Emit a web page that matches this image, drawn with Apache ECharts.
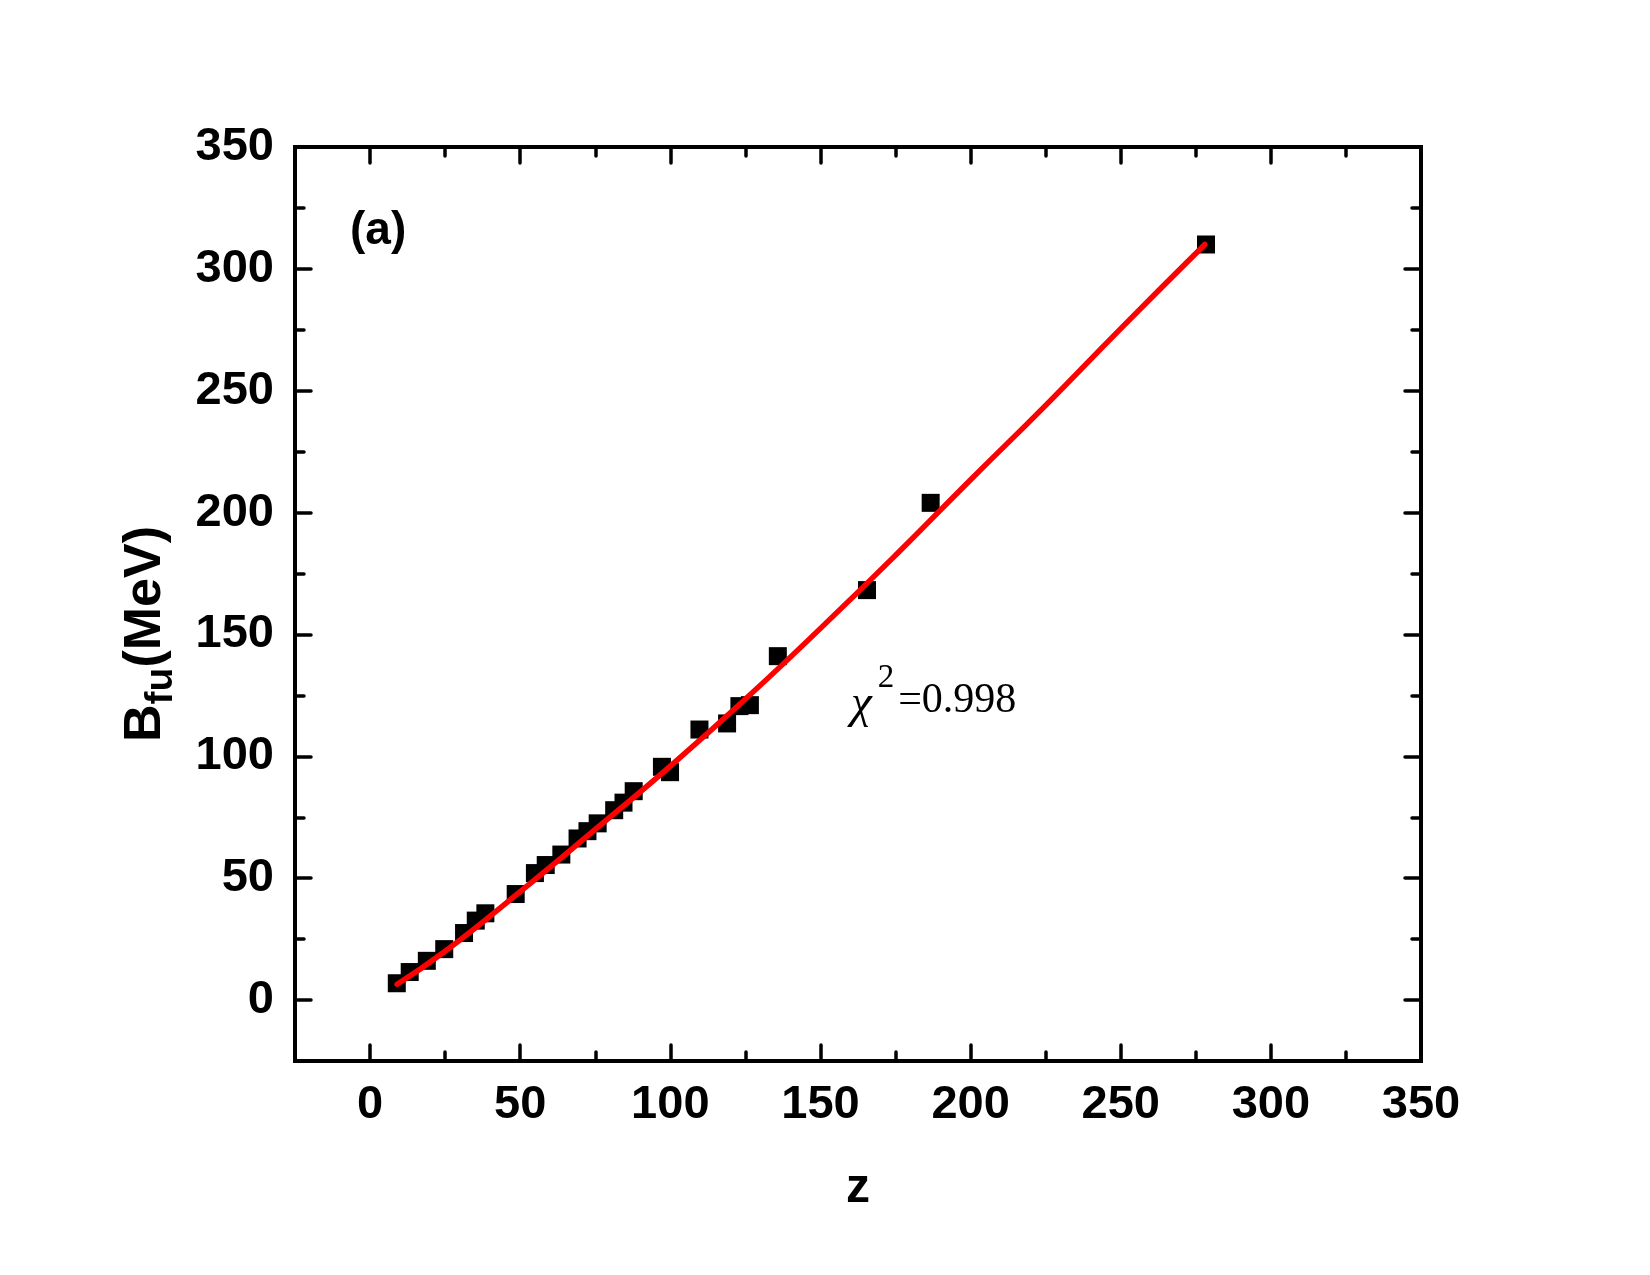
<!DOCTYPE html>
<html>
<head>
<meta charset="utf-8">
<script src="https://cdn.jsdelivr.net/npm/echarts@6/dist/echarts.min.js"></script>
<style>
html,body{margin:0;padding:0;background:#fff;}
#chart{width:1650px;height:1275px;}
</style>
</head>
<body>
<div id="chart"></div>
<script>
// ---- data ----
var zValues = [8.9, 13.2, 18.9, 24.7, 31.3, 35.2, 38.4, 48.5, 54.9, 58.5, 63.7, 69.1, 72.4, 75.8, 81.3, 84.4, 87.8, 97.2, 99.9, 109.7, 118.9, 123.0, 126.5, 135.8, 165.5, 186.7, 278.4];
var bValues = [6.9, 11.5, 16.1, 20.9, 27.5, 32.6, 35.6, 43.5, 52.1, 55.4, 59.7, 66.3, 69.3, 72.5, 77.9, 81.0, 85.7, 95.7, 93.5, 111.0, 113.5, 120.6, 121.0, 141.1, 168.2, 204.0, 310.0];
var fitZ = [9, 25, 50, 75, 100, 125, 150, 175, 200, 225, 250, 278];
var fitB = [6.5, 20, 44.5, 70, 96, 123.5, 152.5, 182.5, 213.5, 244, 275.5, 310];
var xMajorTicks = [0, 50, 100, 150, 200, 250, 300, 350];
var xMinorTicks = [-25, 25, 75, 125, 175, 225, 275, 325];
var yMajorTicks = [0, 50, 100, 150, 200, 250, 300, 350];
var yMinorTicks = [-25, 25, 75, 125, 175, 225, 275, 325];
var axisMin = -25, axisMax = 350;

var scatterData = zValues.map(function (z, i) { return [z, bValues[i]]; });
var fitData = fitZ.map(function (z, i) { return [z, fitB[i]]; });

var FONT = 'Liberation Sans, Arial, Helvetica, sans-serif';
var SERIF = 'Liberation Serif, Times New Roman, serif';

var mctx = document.createElement('canvas').getContext('2d');
function textW(txt, font) { mctx.font = font; return mctx.measureText(txt).width; }

var chart = echarts.init(document.getElementById('chart'), null, {renderer: 'canvas'});

function mkAxis(pos, values, len, withLabel, extra) {
  var a = {
    type: 'value',
    gridIndex: 0,
    position: pos,
    min: axisMin,
    max: axisMax,
    interval: 25,
    axisLine: {show: false, onZero: false},
    splitLine: {show: false},
    axisTick: {
      show: true, inside: true, length: len, customValues: values,
      lineStyle: {color: '#000', width: 3.5, cap: 'round'}
    },
    axisLabel: withLabel ? {
      show: true, customValues: values, color: '#000', fontSize: 47,
      fontWeight: 'bold', fontFamily: FONT, margin: 21
    } : {show: false}
  };
  if (extra) { for (var k in extra) a[k] = extra[k]; }
  return a;
}

// y-axis title pieces: B, subscript fu, (MeV)
var tB = 'B', tSub = 'fu', tRest = '(MeV)';
var fB = 'bold 52px ' + FONT, fS = 'bold 39px ' + FONT;
var wB = textW(tB, fB), wS = textW(tSub, fS), wR = textW(tRest, fB);
var wTot = wB + wS + wR;
var x0 = -wTot / 2;

// chi^2 pieces
var fChi = 'italic 47px ' + SERIF, fSup = '33px ' + SERIF, fEq = '42px ' + SERIF;
var chiX = 851;
var supX = chiX + textW('χ', fChi) + 6;
var eqX = supX + textW('2', fSup) + 4;

var option = {
  backgroundColor: '#fff',
  animation: false,
  grid: {
    left: 295, right: 229, top: 147, bottom: 214,
    show: true, borderColor: '#000', borderWidth: 4, backgroundColor: 'transparent'
  },
  xAxis: [
    mkAxis('bottom', xMajorTicks, 16, true, {
      name: 'z', nameLocation: 'middle', nameGap: 104,
      nameTextStyle: {fontSize: 48, fontWeight: 'bold', fontFamily: FONT, color: '#000'}
    }),
    mkAxis('bottom', xMinorTicks, 9, false),
    mkAxis('top', xMajorTicks, 16, false),
    mkAxis('top', xMinorTicks, 9, false)
  ],
  yAxis: [
    mkAxis('left', yMajorTicks, 16, true),
    mkAxis('left', yMinorTicks, 9, false),
    mkAxis('right', yMajorTicks, 16, false),
    mkAxis('right', yMinorTicks, 9, false)
  ],
  graphic: [
    {
      type: 'text', left: 350, top: 208, z: 100,
      style: {text: '(a)', fontSize: 46, fontWeight: 'bold', fontFamily: FONT, fill: '#000'}
    },
    {
      type: 'text', x: chiX, y: 705, z: 100,
      style: {text: 'χ', font: fChi, fill: '#000', align: 'left', verticalAlign: 'middle'}
    },
    {
      type: 'text', x: supX, y: 678, z: 100,
      style: {text: '2', font: fSup, fill: '#000', align: 'left', verticalAlign: 'middle'}
    },
    {
      type: 'text', x: eqX, y: 701, z: 100,
      style: {text: '=0.998', font: fEq, fill: '#000', align: 'left', verticalAlign: 'middle'}
    },
    {
      type: 'group', x: 146, y: 634, rotation: Math.PI / 2, z: 100,
      children: [
        {type: 'text', x: x0, y: 0, style: {text: tB, font: fB, fill: '#000', align: 'left', verticalAlign: 'middle'}},
        {type: 'text', x: x0 + wB, y: 15, style: {text: tSub, font: fS, fill: '#000', align: 'left', verticalAlign: 'middle'}},
        {type: 'text', x: x0 + wB + wS, y: 0, style: {text: tRest, font: fB, fill: '#000', align: 'left', verticalAlign: 'middle'}}
      ]
    }
  ],
  series: [
    {
      type: 'scatter', xAxisIndex: 0, yAxisIndex: 0,
      data: scatterData, symbol: 'rect', symbolSize: 18,
      itemStyle: {color: '#000', opacity: 1}, z: 2
    },
    {
      type: 'line', xAxisIndex: 0, yAxisIndex: 0,
      data: fitData, smooth: true, showSymbol: false, symbol: 'none',
      lineStyle: {color: '#ff0000', width: 5.5, cap: 'round'}, z: 3
    }
  ]
};
chart.setOption(option);
</script>
</body>
</html>
